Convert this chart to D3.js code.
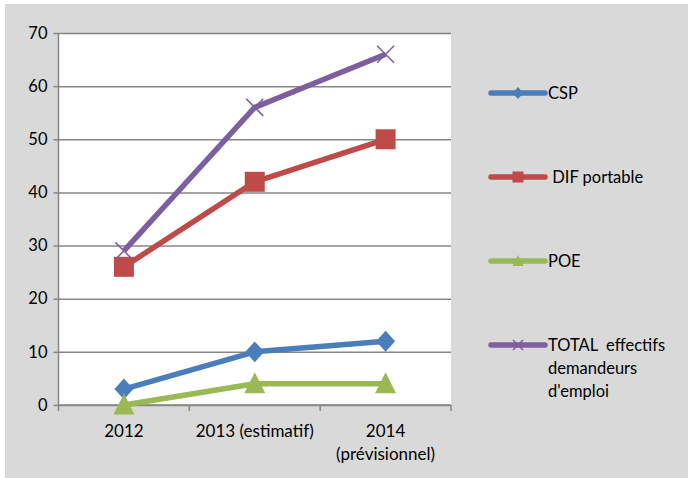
<!DOCTYPE html>
<html>
<head>
<meta charset="utf-8">
<script src="https://cdn.jsdelivr.net/npm/d3@7"></script>
<style>
    body { margin: 0; background: #fff; }
    svg { display: block; }
    text { font-family: Lato, "Open Sans", sans-serif; font-size: 16.5px; fill: #000; }
</style>
</head>
<body>
<script>
// Data
var categories = ['2012', '2013 (estimatif)', '2014|(prévisionnel)'];
var yTicks = [0, 10, 20, 30, 40, 50, 60, 70];
var csp = [3, 10, 12];
var difPortable = [26, 42, 50];
var poe = [0, 4, 4];
var total = [29, 56, 66];

var series = [
    {name: ['CSP'], values: csp, color: '#4a7ebb', marker: 'diamond'},
    {name: [' DIF portable'], values: difPortable, color: '#be4b48', marker: 'square'},
    {name: ['POE'], values: poe, color: '#98b954', marker: 'triangle'},
    {name: ['TOTAL  effectifs', 'demandeurs', "d'emploi"], values: total, color: '#7d5fa0', marker: 'x'}
];

var W = 688, H = 478;
var svg = d3.select('body').append('svg').attr('width', W).attr('height', H);

// gray chart background
svg.append('rect').attr('x', 5).attr('y', 4).attr('width', W - 5).attr('height', H - 4)
    .attr('fill', '#d9d9d9');

var plot = {left: 58.5, right: 451, top: 33, bottom: 405};

var x = d3.scaleBand().domain(categories).range([plot.left, plot.right]);
var y = d3.scaleLinear().domain([0, 70]).range([plot.bottom, plot.top]);

svg.append('rect').attr('x', plot.left).attr('y', plot.top)
    .attr('width', plot.right - plot.left).attr('height', plot.bottom - plot.top)
    .attr('fill', '#fff');

// y axis with gridlines
var yAxis = svg.append('g').attr('transform', 'translate(' + plot.left + ',0)')
    .call(d3.axisLeft(y).tickValues(yTicks).tickSize(5).tickPadding(6));
yAxis.select('.domain').remove();
yAxis.selectAll('.tick line').attr('stroke', '#868686').attr('stroke-width', 1.5);
yAxis.selectAll('.tick').append('line')
    .attr('x1', 0).attr('x2', plot.right - plot.left)
    .attr('stroke', '#868686').attr('stroke-width', 1.5);
yAxis.selectAll('.tick text').attr('font-size', 17).attr('fill', '#000')
    .attr('font-family', 'Lato, "Open Sans", sans-serif');
svg.append('line').attr('x1', plot.left).attr('x2', plot.left)
    .attr('y1', plot.top).attr('y2', plot.bottom)
    .attr('stroke', '#868686').attr('stroke-width', 1.5);

// x axis
var xAxis = svg.append('g').attr('transform', 'translate(0,' + plot.bottom + ')');
xAxis.append('line').attr('x1', plot.left).attr('x2', plot.right)
    .attr('stroke', '#868686').attr('stroke-width', 1.5);
var edges = categories.map(function (c) { return x(c); }).concat([plot.right]);
xAxis.selectAll('line.tk').data(edges).enter().append('line').attr('class', 'tk')
    .attr('x1', function (d) { return d; }).attr('x2', function (d) { return d; })
    .attr('y1', 0).attr('y2', 6)
    .attr('stroke', '#868686').attr('stroke-width', 1.5);
xAxis.selectAll('text.lbl').data(categories).enter().append('text').attr('class', 'lbl')
    .attr('x', function (d) { return x(d) + x.bandwidth() / 2; })
    .attr('y', 32)
    .attr('text-anchor', 'middle')
    .style('font-size', '17px')
    .each(function (d) {
        var t = d3.select(this);
        d.split('|').forEach(function (part, i) {
            t.append('tspan').attr('x', x(d) + x.bandwidth() / 2)
                .attr('dy', i === 0 ? 0 : 23).text(part);
        });
    });

function cx(i) { return x(categories[i]) + x.bandwidth() / 2; }

// draw marker
function drawMarker(g, type, color, px, py, s) {
    if (type === 'diamond') {
        var d = s / 2;
        g.append('path')
            .attr('d', 'M' + px + ',' + (py - d * 1.1) + 'L' + (px + d) + ',' + py +
                'L' + px + ',' + (py + d * 1.1) + 'L' + (px - d) + ',' + py + 'Z')
            .attr('fill', color);
    } else if (type === 'square') {
        g.append('rect').attr('x', px - s / 2).attr('y', py - s / 2)
            .attr('width', s).attr('height', s).attr('fill', color);
    } else if (type === 'triangle') {
        g.append('path')
            .attr('d', 'M' + px + ',' + (py - s * 0.55) + 'L' + (px + s / 2) + ',' + (py + s * 0.45) +
                'L' + (px - s / 2) + ',' + (py + s * 0.45) + 'Z')
            .attr('fill', color);
    } else if (type === 'x') {
        var h = s / 2;
        g.append('path')
            .attr('d', 'M' + (px - h) + ',' + (py - h) + 'L' + (px + h) + ',' + (py + h) +
                'M' + (px - h) + ',' + (py + h) + 'L' + (px + h) + ',' + (py - h))
            .attr('stroke', color).attr('stroke-width', 1.5).attr('fill', 'none');
    }
}

var line = d3.line().x(function (d, i) { return cx(i); }).y(function (d) { return y(d); });

var markerSize = {diamond: 19, square: 20, triangle: 21, x: 17};

series.forEach(function (s) {
    var g = svg.append('g');
    g.append('path').datum(s.values).attr('d', line)
        .attr('fill', 'none').attr('stroke', s.color).attr('stroke-width', 5.5)
        .attr('stroke-linejoin', 'round');
    s.values.forEach(function (v, i) {
        drawMarker(g, s.marker, s.color, cx(i), y(v), markerSize[s.marker]);
    });
});

// legend
var legendY = [93, 177, 261, 345];
series.forEach(function (s, i) {
    var g = svg.append('g');
    var ly = legendY[i];
    g.append('line').attr('x1', 491).attr('x2', 545).attr('y1', ly).attr('y2', ly)
        .attr('stroke', s.color).attr('stroke-width', 5.5).attr('stroke-linecap', 'round');
    drawMarker(g, s.marker, s.color, 518, ly, s.marker === 'x' ? 10 : 11);
    var t = g.append('text').attr('x', 548).attr('y', ly + 6).attr('xml:space', 'preserve');
    s.name.forEach(function (n, j) {
        t.append('tspan').attr('x', 548).attr('dy', j === 0 ? 0 : 23).text(n);
    });
});
</script>
</body>
</html>
